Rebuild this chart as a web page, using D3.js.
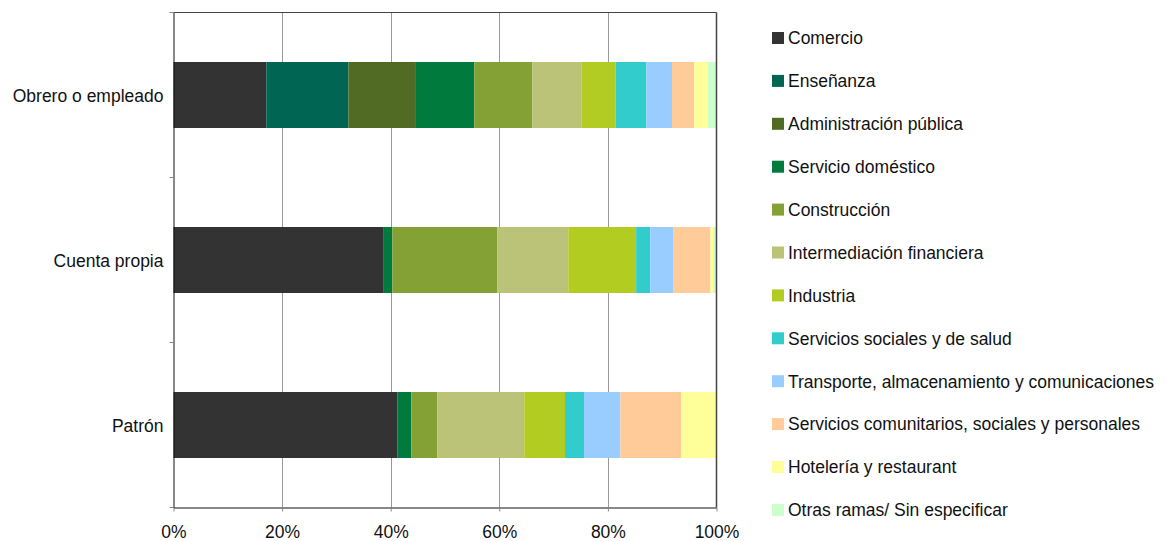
<!DOCTYPE html>
<html>
<head>
<meta charset="utf-8">
<script src="https://cdn.jsdelivr.net/npm/d3@7"></script>
<style>
  html, body { margin: 0; padding: 0; background: #fff; }
  svg { display: block; font-family: "Liberation Sans", Arial, sans-serif; }
</style>
</head>
<body>
<svg id="chart" width="1166" height="541"></svg>
<script>
// Categories (top to bottom)
const categories = ["Obrero o empleado", "Cuenta propia", "Patrón"];

// Series (legend order), values per category in %
const seriesNames = [
  "Comercio",
  "Enseñanza",
  "Administración pública",
  "Servicio doméstico",
  "Construcción",
  "Intermediación financiera",
  "Industria",
  "Servicios sociales y de salud",
  "Transporte, almacenamiento y comunicaciones",
  "Servicios comunitarios, sociales y personales",
  "Hotelería y restaurant",
  "Otras ramas/ Sin especificar"
];
const comercio        = [17.1, 38.6, 41.2];
const ensenanza       = [15.1, 0.0, 0.0];
const adminPublica    = [12.3, 0.0, 0.0];
const servDomestico   = [10.9, 1.7, 2.6];
const construccion    = [10.7, 19.3, 4.8];
const intermediacion  = [9.0, 13.1, 16.0];
const industria       = [6.3, 12.5, 7.5];
const servSociales    = [5.7, 2.6, 3.5];
const transporte      = [4.7, 4.3, 6.7];
const servComunitarios= [4.1, 6.8, 11.2];
const hoteleria       = [2.5, 0.5, 6.5];
const otras           = [1.6, 0.6, 0.0];

const colors = ["#333333", "#006654", "#516b25", "#007a3d", "#84a136", "#bbc378",
                "#b2cc22", "#33cccc", "#99ccff", "#ffcc99", "#ffff99", "#ccffcc"];
const xTickValues = [0, 0.2, 0.4, 0.6, 0.8, 1.0];

const seriesValues = [comercio, ensenanza, adminPublica, servDomestico, construccion,
  intermediacion, industria, servSociales, transporte, servComunitarios, hoteleria, otras];

const rows = categories.map((c, i) => {
  const r = { cat: c };
  seriesNames.forEach((s, j) => { r[s] = seriesValues[j][i] / 100; });
  return r;
});

const FS = 17.5;
const svg = d3.select("#chart");
const plot = { left: 173.5, right: 716.5, top: 12.5, bottom: 507.5 };

const x = d3.scaleLinear().domain([0, 1]).range([plot.left, plot.right]);
const y = d3.scaleBand().domain(categories).range([plot.top, plot.bottom])
  .paddingInner(0.6).paddingOuter(0.3);

// gridlines
svg.append("g").selectAll("line").data(xTickValues.slice(1, -1)).join("line")
  .attr("x1", d => Math.round(x(d)) + 0.5).attr("x2", d => Math.round(x(d)) + 0.5)
  .attr("y1", plot.top).attr("y2", plot.bottom)
  .attr("stroke", "#9a9a9a").attr("stroke-width", 1);

// bars
const stack = d3.stack().keys(seriesNames)(rows);
svg.append("g").selectAll("g").data(stack).join("g")
  .attr("fill", (d, i) => colors[i])
  .selectAll("rect").data(d => d).join("rect")
  .attr("x", d => x(d[0]))
  .attr("width", d => Math.max(0, x(d[1]) - x(d[0])))
  .attr("y", d => y(d.data.cat))
  .attr("height", y.bandwidth());

// top and right border
svg.append("line").attr("x1", plot.left).attr("x2", plot.right)
  .attr("y1", plot.top).attr("y2", plot.top).attr("stroke", "#444").attr("stroke-width", 1);
svg.append("line").attr("x1", plot.right).attr("x2", plot.right)
  .attr("y1", plot.top).attr("y2", plot.bottom).attr("stroke", "#444").attr("stroke-width", 1.5);

// x axis
const xAxis = d3.axisBottom(x).tickValues(xTickValues).tickFormat(d3.format(".0%"))
  .tickSizeInner(4).tickSizeOuter(0).tickPadding(14);
const gx = svg.append("g").attr("transform", `translate(0,${plot.bottom})`).call(xAxis);
gx.select(".domain").attr("stroke", "#111");
gx.selectAll(".tick line").attr("stroke", "#888");
gx.selectAll("text").attr("font-size", FS).attr("fill", "#111")
  .attr("font-family", "Liberation Sans, Arial, sans-serif");

// y axis
const yAxis = d3.axisLeft(y).tickSize(0).tickPadding(10);
const gy = svg.append("g").attr("transform", `translate(${plot.left},0)`).call(yAxis);
gy.select(".domain").attr("stroke", "#111");
gy.selectAll("text").attr("font-size", FS).attr("fill", "#111").attr("dy", "0.42em")
  .attr("font-family", "Liberation Sans, Arial, sans-serif");
// category boundary ticks
const bounds = d3.range(categories.length + 1).map(i => plot.top + i * y.step());
svg.append("g").selectAll("line").data(bounds).join("line")
  .attr("x1", plot.left - 4).attr("x2", plot.left)
  .attr("y1", d => d).attr("y2", d => d)
  .attr("stroke", "#888");

// legend
const legend = svg.append("g");
const lg = legend.selectAll("g").data(seriesNames).join("g")
  .attr("transform", (d, i) => `translate(772,${38 + i * 42.9})`);
lg.append("rect").attr("x", 0).attr("y", -6).attr("width", 12).attr("height", 12)
  .attr("fill", (d, i) => colors[i]);
lg.append("text").attr("x", 16).attr("y", 0).attr("dy", "0.36em")
  .attr("font-size", FS).attr("fill", "#111").text(d => d);
</script>
</body>
</html>
